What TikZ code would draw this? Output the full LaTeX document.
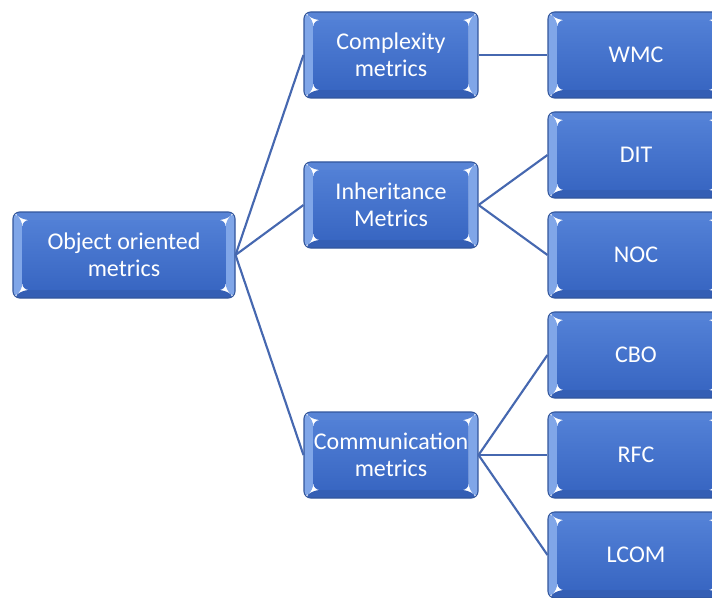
\documentclass[tikz,border=0pt]{standalone}
\usepackage{fontspec}
\setmainfont{Carlito}
\usepackage{tikz}
\usetikzlibrary{positioning,calc}
\definecolor{boxtop}{RGB}{82,128,214}
\definecolor{boxbot}{RGB}{56,102,194}
\definecolor{boxrim}{RGB}{50,86,156}
\definecolor{bevside}{RGB}{128,166,232}
\definecolor{bevtop}{RGB}{88,132,214}
\definecolor{bevbot}{RGB}{52,94,180}
\definecolor{linkblue}{RGB}{70,104,176}
\newcommand{\bevelbox}{%
  \fill[bevside] (path picture bounding box.north west) -- (path picture bounding box.south west)
    -- ([shift={(7pt,6pt)}]path picture bounding box.south west)
    -- ([shift={(7pt,-6pt)}]path picture bounding box.north west) -- cycle;
  \fill[bevside] (path picture bounding box.north east) -- (path picture bounding box.south east)
    -- ([shift={(-7pt,6pt)}]path picture bounding box.south east)
    -- ([shift={(-7pt,-6pt)}]path picture bounding box.north east) -- cycle;
  \fill[bevtop] (path picture bounding box.north west) -- (path picture bounding box.north east)
    -- ([shift={(-7pt,-6pt)}]path picture bounding box.north east)
    -- ([shift={(7pt,-6pt)}]path picture bounding box.north west) -- cycle;
  \fill[bevbot] (path picture bounding box.south west) -- (path picture bounding box.south east)
    -- ([shift={(-7pt,6pt)}]path picture bounding box.south east)
    -- ([shift={(7pt,6pt)}]path picture bounding box.south west) -- cycle;
  \shade[top color=boxtop, bottom color=boxbot]
    ([shift={(7pt,6pt)}]path picture bounding box.south west) rectangle
    ([shift={(-7pt,-6pt)}]path picture bounding box.north east);}

\begin{document}
\begin{tikzpicture}[
  x=0.75pt, y=0.75pt,
  every node/.style={font=\fontsize{18}{20}\selectfont, text=white, align=center},
  metric/.style={draw=boxrim, thick, rounded corners=5pt, minimum height=64.5pt,
                 inner sep=0pt, path picture={\bevelbox}},
  rootbox/.style={metric, minimum width=166.5pt},
  groupbox/.style={metric, minimum width=130.5pt},
  leafbox/.style={metric, minimum width=132pt},
  link/.style={draw=linkblue, line width=1.6pt},
]
\useasboundingbox (0,0) rectangle (712,597);
% Root
\node[rootbox] (oom) at (124, 342) {Object oriented\\metrics};
% Metric groups
\node[groupbox] (cplx) at (391, 542) {Complexity\\metrics};
\node[groupbox] (inh) at (391, 392) {Inheritance\\Metrics};
\node[groupbox] (comm) at (391, 142) {Communication\\metrics};

% Single metrics
\node[leafbox] (wmc) at (636, 542) {WMC};
\node[leafbox] (dit) at (636, 442) {DIT};
\node[leafbox] (noc) at (636, 342) {NOC};
\node[leafbox] (cbo) at (636, 242) {CBO};
\node[leafbox] (rfc) at (636, 142) {RFC};
\node[leafbox] (lcom) at (636, 42) {LCOM};

% Links
\foreach \g in {cplx, inh, comm}
  \draw[link] (oom.east) -- (\g.west);
\draw[link] (cplx.east) -- (wmc.west);
\foreach \m in {dit, noc}
  \draw[link] (inh.east) -- (\m.west);
\foreach \m in {cbo, rfc, lcom}
  \draw[link] (comm.east) -- (\m.west);
\end{tikzpicture}
\end{document}
